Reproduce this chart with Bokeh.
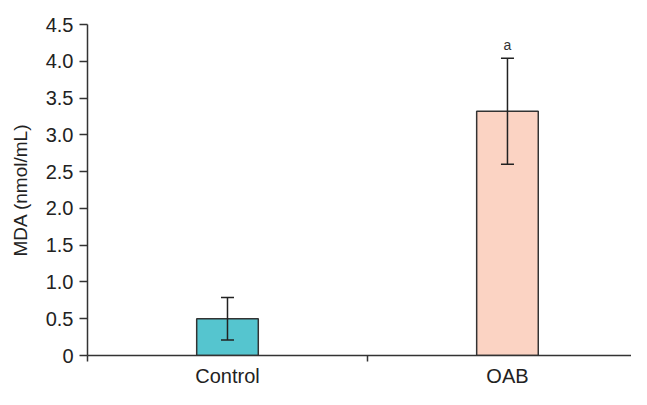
from bokeh.plotting import figure
from bokeh.models import ColumnDataSource, Whisker, TeeHead, FixedTicker, Range1d
from bokeh.core.properties import value
from bokeh.embed import file_html
from bokeh.resources import INLINE

categories = ["Control", "OAB"]
means = [0.50, 3.32]
errors = [0.29, 0.72]
colors = ["#55C5CF", "#FBD3C3"]
sig_labels = ["", "a"]
y_ticks = [0, 0.5, 1.0, 1.5, 2.0, 2.5, 3.0, 3.5, 4.0, 4.5]

xs = [i + 0.5 for i in range(len(categories))]
src = ColumnDataSource(dict(
    x=xs, top=means, color=colors,
    upper=[m + e for m, e in zip(means, errors)],
    lower=[m - e for m, e in zip(means, errors)],
    lab=sig_labels,
))

FONT = "Liberation Sans"
p = figure(width=631, height=389, output_backend="svg", toolbar_location=None,
           x_range=Range1d(0, 1.943), y_range=Range1d(0, 4.5),
           min_border_left=87, min_border_right=0, min_border_top=24, min_border_bottom=27)
p.outline_line_color = None
p.xgrid.grid_line_color = None
p.ygrid.grid_line_color = None

p.vbar(x="x", top="top", width=0.22, bottom=0, source=src, fill_color="color",
       line_color="#333333", line_width=1.5)

w = Whisker(base="x", upper="upper", lower="lower", source=src, level="annotation",
            line_color="#222222", line_width=1.5,
            upper_head=TeeHead(size=13, line_color="#222222", line_width=1.5),
            lower_head=TeeHead(size=13, line_color="#222222", line_width=1.5))
p.add_layout(w)

p.text(x="x", y="upper", text="lab", source=src, text_align="center",
       text_baseline="bottom", y_offset=-5, text_font=value(FONT),
       text_font_size="14px", text_color="#333333")

# x axis
p.xaxis.ticker = FixedTicker(ticks=xs, minor_ticks=list(range(len(categories) + 1)))
p.xaxis.major_label_overrides = {x: c for x, c in zip(xs, categories)}
p.xaxis.major_tick_out = 0
p.xaxis.major_tick_in = 0
p.xaxis.minor_tick_out = 6
p.xaxis.minor_tick_in = 0
p.xaxis.minor_tick_line_color = "#333333"
p.xaxis.minor_tick_line_width = 1.5
p.xaxis.major_label_standoff = 3
p.xaxis.axis_line_color = "#333333"
p.xaxis.axis_line_width = 1.5
p.xaxis.major_label_text_font = FONT
p.xaxis.major_label_text_font_size = "20px"
p.xaxis.major_label_text_color = "#222222"

# y axis
p.yaxis.ticker = FixedTicker(ticks=y_ticks, minor_ticks=[])
p.yaxis.major_label_overrides = {t: ("0" if t == 0 else f"{t:.1f}") for t in y_ticks}
p.yaxis.major_tick_out = 8
p.yaxis.major_tick_in = 0
p.yaxis.major_tick_line_color = "#333333"
p.yaxis.major_tick_line_width = 1.5
p.yaxis.major_label_standoff = 6
p.yaxis.axis_line_color = "#333333"
p.yaxis.axis_line_width = 1.5
p.yaxis.major_label_text_font = FONT
p.yaxis.major_label_text_font_size = "20px"
p.yaxis.major_label_text_color = "#222222"
p.yaxis.axis_label = "MDA (nmol/mL)"
p.yaxis.axis_label_text_font = FONT
p.yaxis.axis_label_text_font_size = "19px"
p.yaxis.axis_label_text_font_style = "normal"
p.yaxis.axis_label_text_color = "#222222"
p.yaxis.axis_label_standoff = 12

open("out.html", "w").write(file_html(p, INLINE))
